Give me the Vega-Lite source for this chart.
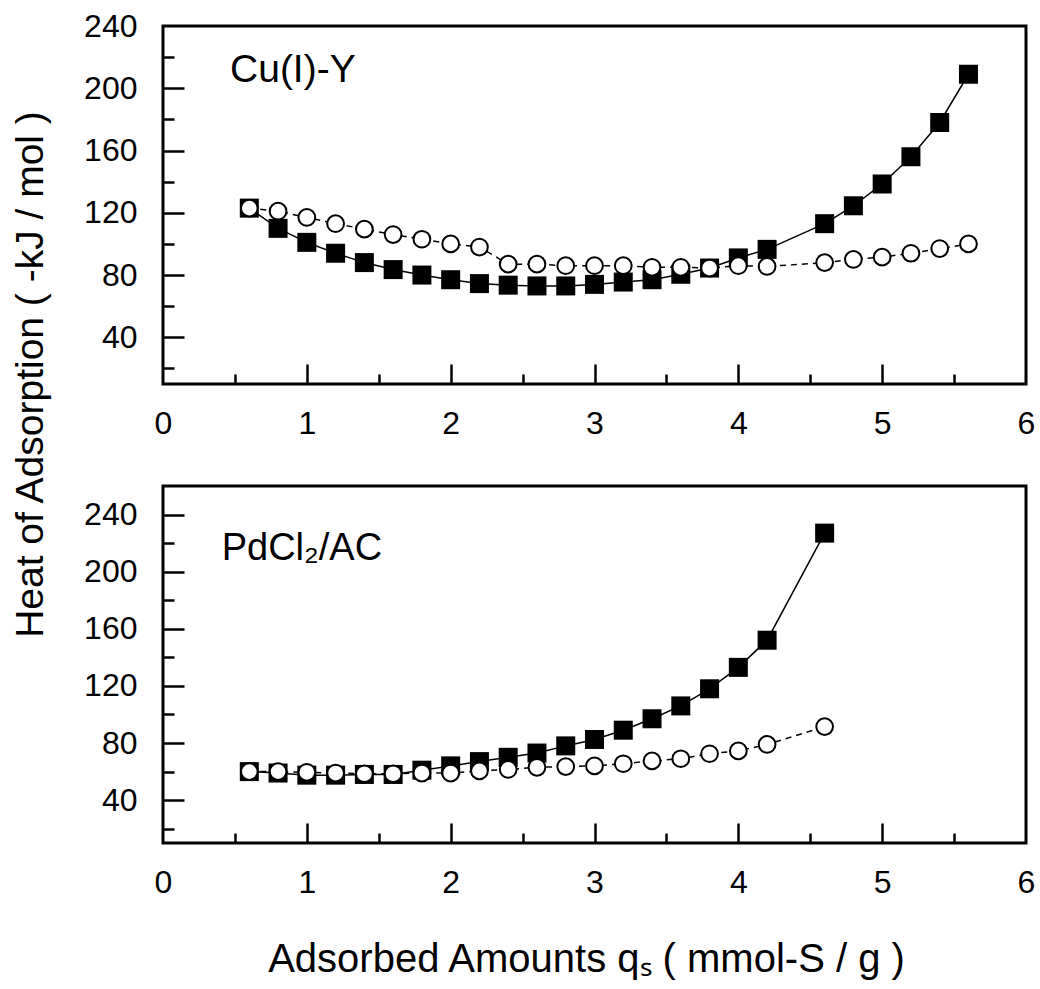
{
  "$schema": "https://vega.github.io/schema/vega-lite/v6.json",
  "background": "white",
  "padding": {"left": 9, "top": 8, "right": 5, "bottom": 5},
  "bounds": "flush",
  "spacing": 102,
  "config": {
    "font": "Liberation Sans",
    "view": {"stroke": "black", "strokeWidth": 3},
    "axis": {
      "grid": false,
      "domain": false,
      "tickColor": "black",
      "tickWidth": 2.5,
      "labelColor": "black",
      "labelFont": "Liberation Sans",
      "labelFontSize": 32,
      "labelOverlap": false,
      "labelFlush": false,
      "titleFont": "Liberation Sans",
      "titleColor": "black",
      "titleFontWeight": "normal"
    }
  },
  "datasets": {
    "d": [
      {"panel": "top", "series": "filled", "q": 0.6, "heat": 123},
      {"panel": "top", "series": "filled", "q": 0.8, "heat": 110},
      {"panel": "top", "series": "filled", "q": 1.0, "heat": 101},
      {"panel": "top", "series": "filled", "q": 1.2, "heat": 94},
      {"panel": "top", "series": "filled", "q": 1.4, "heat": 88},
      {"panel": "top", "series": "filled", "q": 1.6, "heat": 83.5},
      {"panel": "top", "series": "filled", "q": 1.8, "heat": 80},
      {"panel": "top", "series": "filled", "q": 2.0, "heat": 77},
      {"panel": "top", "series": "filled", "q": 2.2, "heat": 74.5},
      {"panel": "top", "series": "filled", "q": 2.4, "heat": 73.5},
      {"panel": "top", "series": "filled", "q": 2.6, "heat": 73},
      {"panel": "top", "series": "filled", "q": 2.8, "heat": 73},
      {"panel": "top", "series": "filled", "q": 3.0, "heat": 74},
      {"panel": "top", "series": "filled", "q": 3.2, "heat": 75.5},
      {"panel": "top", "series": "filled", "q": 3.4, "heat": 77},
      {"panel": "top", "series": "filled", "q": 3.6, "heat": 80.5},
      {"panel": "top", "series": "filled", "q": 3.8, "heat": 84.5},
      {"panel": "top", "series": "filled", "q": 4.0, "heat": 91},
      {"panel": "top", "series": "filled", "q": 4.2, "heat": 96.5},
      {"panel": "top", "series": "filled", "q": 4.6, "heat": 113},
      {"panel": "top", "series": "filled", "q": 4.8, "heat": 124.5},
      {"panel": "top", "series": "filled", "q": 5.0, "heat": 138.5},
      {"panel": "top", "series": "filled", "q": 5.2, "heat": 156},
      {"panel": "top", "series": "filled", "q": 5.4, "heat": 178},
      {"panel": "top", "series": "filled", "q": 5.6, "heat": 209},
      {"panel": "top", "series": "open", "q": 0.6, "heat": 123},
      {"panel": "top", "series": "open", "q": 0.8, "heat": 121},
      {"panel": "top", "series": "open", "q": 1.0, "heat": 117},
      {"panel": "top", "series": "open", "q": 1.2, "heat": 113},
      {"panel": "top", "series": "open", "q": 1.4, "heat": 109.5},
      {"panel": "top", "series": "open", "q": 1.6, "heat": 106},
      {"panel": "top", "series": "open", "q": 1.8, "heat": 103},
      {"panel": "top", "series": "open", "q": 2.0, "heat": 100},
      {"panel": "top", "series": "open", "q": 2.2, "heat": 98},
      {"panel": "top", "series": "open", "q": 2.4, "heat": 87},
      {"panel": "top", "series": "open", "q": 2.6, "heat": 87},
      {"panel": "top", "series": "open", "q": 2.8, "heat": 86},
      {"panel": "top", "series": "open", "q": 3.0, "heat": 86},
      {"panel": "top", "series": "open", "q": 3.2, "heat": 86},
      {"panel": "top", "series": "open", "q": 3.4, "heat": 85},
      {"panel": "top", "series": "open", "q": 3.6, "heat": 85},
      {"panel": "top", "series": "open", "q": 3.8, "heat": 84.5},
      {"panel": "top", "series": "open", "q": 4.0, "heat": 86},
      {"panel": "top", "series": "open", "q": 4.2, "heat": 85.5},
      {"panel": "top", "series": "open", "q": 4.6, "heat": 88},
      {"panel": "top", "series": "open", "q": 4.8, "heat": 90},
      {"panel": "top", "series": "open", "q": 5.0, "heat": 91.5},
      {"panel": "top", "series": "open", "q": 5.2, "heat": 94},
      {"panel": "top", "series": "open", "q": 5.4, "heat": 97},
      {"panel": "top", "series": "open", "q": 5.6, "heat": 100},
      {"panel": "bottom", "series": "filled", "q": 0.6, "heat": 60},
      {"panel": "bottom", "series": "filled", "q": 0.8, "heat": 59},
      {"panel": "bottom", "series": "filled", "q": 1.0, "heat": 57.5},
      {"panel": "bottom", "series": "filled", "q": 1.2, "heat": 57.5},
      {"panel": "bottom", "series": "filled", "q": 1.4, "heat": 58},
      {"panel": "bottom", "series": "filled", "q": 1.6, "heat": 58},
      {"panel": "bottom", "series": "filled", "q": 1.8, "heat": 61},
      {"panel": "bottom", "series": "filled", "q": 2.0, "heat": 64},
      {"panel": "bottom", "series": "filled", "q": 2.2, "heat": 67},
      {"panel": "bottom", "series": "filled", "q": 2.4, "heat": 70},
      {"panel": "bottom", "series": "filled", "q": 2.6, "heat": 73},
      {"panel": "bottom", "series": "filled", "q": 2.8, "heat": 78},
      {"panel": "bottom", "series": "filled", "q": 3.0, "heat": 82.5},
      {"panel": "bottom", "series": "filled", "q": 3.2, "heat": 89},
      {"panel": "bottom", "series": "filled", "q": 3.4, "heat": 97},
      {"panel": "bottom", "series": "filled", "q": 3.6, "heat": 106},
      {"panel": "bottom", "series": "filled", "q": 3.8, "heat": 118},
      {"panel": "bottom", "series": "filled", "q": 4.0, "heat": 133},
      {"panel": "bottom", "series": "filled", "q": 4.2, "heat": 152},
      {"panel": "bottom", "series": "filled", "q": 4.6, "heat": 227},
      {"panel": "bottom", "series": "open", "q": 0.6, "heat": 60},
      {"panel": "bottom", "series": "open", "q": 0.8, "heat": 60},
      {"panel": "bottom", "series": "open", "q": 1.0, "heat": 59.5},
      {"panel": "bottom", "series": "open", "q": 1.2, "heat": 59},
      {"panel": "bottom", "series": "open", "q": 1.4, "heat": 58.5},
      {"panel": "bottom", "series": "open", "q": 1.6, "heat": 58.5},
      {"panel": "bottom", "series": "open", "q": 1.8, "heat": 59},
      {"panel": "bottom", "series": "open", "q": 2.0, "heat": 59},
      {"panel": "bottom", "series": "open", "q": 2.2, "heat": 60.5},
      {"panel": "bottom", "series": "open", "q": 2.4, "heat": 61.5},
      {"panel": "bottom", "series": "open", "q": 2.6, "heat": 63},
      {"panel": "bottom", "series": "open", "q": 2.8, "heat": 63.5},
      {"panel": "bottom", "series": "open", "q": 3.0, "heat": 64},
      {"panel": "bottom", "series": "open", "q": 3.2, "heat": 65.5},
      {"panel": "bottom", "series": "open", "q": 3.4, "heat": 67.5},
      {"panel": "bottom", "series": "open", "q": 3.6, "heat": 69},
      {"panel": "bottom", "series": "open", "q": 3.8, "heat": 72.5},
      {"panel": "bottom", "series": "open", "q": 4.0, "heat": 74.5},
      {"panel": "bottom", "series": "open", "q": 4.2, "heat": 79},
      {"panel": "bottom", "series": "open", "q": 4.6, "heat": 91.5}
    ]
  },
  "vconcat": [
    {
      "width": 863,
      "height": 358,
      "resolve": {"axis": {"x": "independent", "y": "independent"}},
      "layer": [
        {
          "data": {"name": "d"},
          "transform": [{"filter": "datum.panel == 'top' && datum.series == 'filled'"}],
          "mark": {"type": "line", "color": "black", "strokeWidth": 1.5},
          "encoding": {
            "x": {"field": "q", "type": "quantitative", "scale": {"domain": [0, 6], "nice": false, "zero": false},
              "axis": {"orient": "bottom", "values": [0, 1, 2, 3, 4, 5, 6], "format": "d", "ticks": false, "labelPadding": 24, "title": null}},
            "y": {"field": "heat", "type": "quantitative", "scale": {"domain": [10, 240], "nice": false, "zero": false},
              "axis": {"orient": "left", "values": [40, 80, 120, 160, 200, 240], "format": "d", "ticks": false, "labelPadding": 26,
                "title": "Heat of Adsorption ( -kJ / mol )", "titleFontSize": 39, "titleX": -121, "titleY": 348,
                "titleBaseline": "alphabetic", "titleAlign": "center", "titleAngle": -90}}
          }
        },
        {
          "data": {"name": "d"},
          "transform": [{"filter": "datum.panel == 'top' && datum.series == 'filled'"}],
          "mark": {"type": "point", "shape": "square", "filled": true, "color": "black", "size": 361, "opacity": 1},
          "encoding": {
            "x": {"field": "q", "type": "quantitative", "scale": {"domain": [0, 6], "nice": false, "zero": false},
              "axis": {"orient": "bottom", "values": [1, 2, 3, 4, 5], "tickSize": 20, "offset": -20, "labels": false, "title": null}},
            "y": {"field": "heat", "type": "quantitative", "scale": {"domain": [10, 240], "nice": false, "zero": false},
              "axis": {"orient": "left", "values": [40, 80, 120, 160, 200], "tickSize": 21, "offset": -21, "labels": false, "title": null}}
          }
        },
        {
          "data": {"name": "d"},
          "transform": [{"filter": "datum.panel == 'top' && datum.series == 'open'"}],
          "mark": {"type": "line", "color": "black", "strokeWidth": 1.5, "strokeDash": [6, 5]},
          "encoding": {
            "x": {"field": "q", "type": "quantitative", "scale": {"domain": [0, 6], "nice": false, "zero": false},
              "axis": {"orient": "bottom", "values": [0.5, 1.5, 2.5, 3.5, 4.5, 5.5], "tickSize": 10, "offset": -10, "labels": false, "title": null}},
            "y": {"field": "heat", "type": "quantitative", "scale": {"domain": [10, 240], "nice": false, "zero": false},
              "axis": {"orient": "left", "values": [20, 60, 100, 140, 180, 220], "tickSize": 11, "offset": -11, "labels": false, "title": null}}
          }
        },
        {
          "data": {"name": "d"},
          "transform": [{"filter": "datum.panel == 'top' && datum.series == 'open'"}],
          "mark": {"type": "point", "shape": "circle", "filled": true, "fill": "white", "stroke": "black", "strokeWidth": 2, "size": 280, "opacity": 1},
          "encoding": {
            "x": {"field": "q", "type": "quantitative", "scale": {"domain": [0, 6], "nice": false, "zero": false}, "axis": null},
            "y": {"field": "heat", "type": "quantitative", "scale": {"domain": [10, 240], "nice": false, "zero": false}, "axis": null}
          }
        },
        {
          "data": {"values": [{"label": "Cu(I)-Y", "q": 0.466, "heat": 204}]},
          "mark": {"type": "text", "align": "left", "baseline": "alphabetic", "fontSize": 39, "font": "Liberation Sans", "color": "black"},
          "encoding": {
            "x": {"field": "q", "type": "quantitative", "scale": {"domain": [0, 6], "nice": false, "zero": false}, "axis": null},
            "y": {"field": "heat", "type": "quantitative", "scale": {"domain": [10, 240], "nice": false, "zero": false}, "axis": null},
            "text": {"field": "label"}
          }
        }
      ]
    },
    {
      "width": 863,
      "height": 357,
      "resolve": {"axis": {"x": "independent", "y": "independent"}},
      "layer": [
        {
          "data": {"name": "d"},
          "transform": [{"filter": "datum.panel == 'bottom' && datum.series == 'filled'"}],
          "mark": {"type": "line", "color": "black", "strokeWidth": 1.5},
          "encoding": {
            "x": {"field": "q", "type": "quantitative", "scale": {"domain": [0, 6], "nice": false, "zero": false},
              "axis": {"orient": "bottom", "values": [0, 1, 2, 3, 4, 5, 6], "format": "d", "ticks": false, "labelPadding": 24,
                "title": "Adsorbed Amounts qₛ ( mmol-S / g )", "titleFontSize": 40, "titleX": 423, "titleY": 128,
                "titleBaseline": "alphabetic", "titleAlign": "center"}},
            "y": {"field": "heat", "type": "quantitative", "scale": {"domain": [10, 260], "nice": false, "zero": false},
              "axis": {"orient": "left", "values": [40, 80, 120, 160, 200, 240], "format": "d", "ticks": false, "labelPadding": 26, "title": null}}
          }
        },
        {
          "data": {"name": "d"},
          "transform": [{"filter": "datum.panel == 'bottom' && datum.series == 'filled'"}],
          "mark": {"type": "point", "shape": "square", "filled": true, "color": "black", "size": 361, "opacity": 1},
          "encoding": {
            "x": {"field": "q", "type": "quantitative", "scale": {"domain": [0, 6], "nice": false, "zero": false},
              "axis": {"orient": "bottom", "values": [1, 2, 3, 4, 5], "tickSize": 20, "offset": -20, "labels": false, "title": null}},
            "y": {"field": "heat", "type": "quantitative", "scale": {"domain": [10, 260], "nice": false, "zero": false},
              "axis": {"orient": "left", "values": [40, 80, 120, 160, 200, 240], "tickSize": 21, "offset": -21, "labels": false, "title": null}}
          }
        },
        {
          "data": {"name": "d"},
          "transform": [{"filter": "datum.panel == 'bottom' && datum.series == 'open'"}],
          "mark": {"type": "line", "color": "black", "strokeWidth": 1.5, "strokeDash": [6, 5]},
          "encoding": {
            "x": {"field": "q", "type": "quantitative", "scale": {"domain": [0, 6], "nice": false, "zero": false},
              "axis": {"orient": "bottom", "values": [0.5, 1.5, 2.5, 3.5, 4.5, 5.5], "tickSize": 10, "offset": -10, "labels": false, "title": null}},
            "y": {"field": "heat", "type": "quantitative", "scale": {"domain": [10, 260], "nice": false, "zero": false},
              "axis": {"orient": "left", "values": [20, 60, 100, 140, 180, 220], "tickSize": 11, "offset": -11, "labels": false, "title": null}}
          }
        },
        {
          "data": {"name": "d"},
          "transform": [{"filter": "datum.panel == 'bottom' && datum.series == 'open'"}],
          "mark": {"type": "point", "shape": "circle", "filled": true, "fill": "white", "stroke": "black", "strokeWidth": 2, "size": 280, "opacity": 1},
          "encoding": {
            "x": {"field": "q", "type": "quantitative", "scale": {"domain": [0, 6], "nice": false, "zero": false}, "axis": null},
            "y": {"field": "heat", "type": "quantitative", "scale": {"domain": [10, 260], "nice": false, "zero": false}, "axis": null}
          }
        },
        {
          "data": {"values": [{"label": "PdCl₂/AC", "q": 0.408, "heat": 208.5}]},
          "mark": {"type": "text", "align": "left", "baseline": "alphabetic", "fontSize": 38, "font": "Liberation Sans", "color": "black"},
          "encoding": {
            "x": {"field": "q", "type": "quantitative", "scale": {"domain": [0, 6], "nice": false, "zero": false}, "axis": null},
            "y": {"field": "heat", "type": "quantitative", "scale": {"domain": [10, 260], "nice": false, "zero": false}, "axis": null},
            "text": {"field": "label"}
          }
        }
      ]
    }
  ]
}
